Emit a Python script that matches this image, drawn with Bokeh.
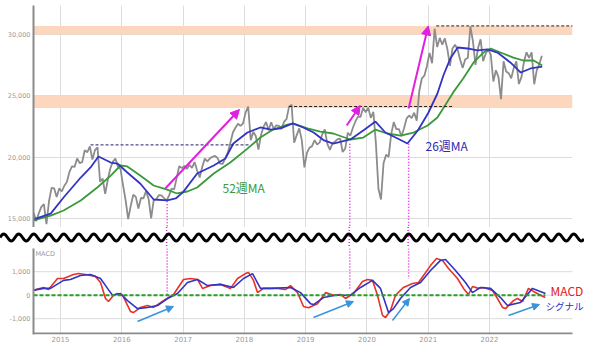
import numpy as np
from bokeh.plotting import figure
from bokeh.layouts import column
from bokeh.models import (Range1d, FixedTicker, NumeralTickFormatter, BoxAnnotation,
                          Arrow, NormalHead, Label, Div)
from bokeh.embed import file_html
from bokeh.resources import INLINE

# ---------------- data ----------------
# weekly price (sampled twice a month), starting second half of Jul 2014
PRICE_START = 2014.5625
price = [
    15460, 14780, 15420, 15950, 16170, 14530, 16410, 17490, 17460, 16760, 17450,
    17200, 17670, 17980, 18800, 19250, 19200, 19900, 19520, 19600, 20560, 20400, 20870,
    19800, 20580, 20800, 18000, 18260, 17000, 18140, 19080, 19640, 19880, 19230, 19030,
    17700, 16500, 14950, 16030, 16940, 16760, 15820, 16670, 16650, 17230, 16600, 15000,
    16500, 16570, 16900, 16890, 16670, 16450, 16860, 17430, 17370, 18310, 19270, 19110,
    19290, 19040, 19380, 19120, 19600, 18910, 18340, 19200, 19880, 19650, 19900, 20030,
    20100, 19930, 19470, 19450, 19900, 20360, 21150, 22010, 22400, 22720, 22550, 22760,
    23650, 24120, 21380, 22070, 21700, 20620, 21800, 22470, 22870, 22200, 22850, 22300,
    22600, 22550, 22300, 22870, 23100, 24120, 24270, 21180, 21800, 22350, 21370, 19160,
    20350, 20770, 20900, 21380, 21020, 21200, 21870, 22260, 21060, 20600, 21120, 21270,
    21470, 21520, 20420, 20700, 21990, 21760, 22400, 22930, 23300, 23290, 24020, 23660,
    24040, 23210, 23690, 21140, 17430, 16550, 19500, 20190, 20040, 21880, 22860, 22290,
    22290, 21710, 22330, 23140, 23400, 23190, 23620, 22980, 25390, 26430, 26650, 27440,
    28500, 27660, 30470, 28970, 29720, 29180, 29680, 28810, 27450, 28860, 29160, 28790,
    27940, 27280, 27980, 28090, 30670, 29450, 27530, 28890, 29610, 27820, 28440, 28790,
    28330, 26170, 27080, 26530, 24720, 27820, 26990, 26850, 26430, 27280, 27820, 25960,
    26520, 27800, 28550, 28090, 28540, 25940, 27090, 27590, 28260,
]

ma26_t = [2014.56, 2014.84, 2015.05, 2015.33, 2015.49, 2015.62, 2015.82, 2015.93, 2016.09, 2016.30,
          2016.52, 2016.74, 2016.88, 2017.00, 2017.23, 2017.50, 2017.69, 2017.82, 2018.05, 2018.26,
          2018.43, 2018.59, 2018.79, 2018.96, 2019.13, 2019.30, 2019.45, 2019.73, 2019.94, 2020.14,
          2020.30, 2020.50, 2020.66, 2020.83, 2021.00, 2021.15, 2021.25, 2021.36, 2021.48, 2021.64,
          2021.80, 2021.97, 2022.13, 2022.34, 2022.51, 2022.67, 2022.86]
ma26_v = [14920, 15400, 16710, 18340, 19160, 20050, 19560, 19480, 18750, 17850,
          16550, 16470, 16630, 17150, 18670, 19320, 19890, 21110, 22010, 22420,
          22250, 22340, 22750, 22420, 22010, 21360, 21110, 21440, 22170, 22900,
          22010, 21520, 21110, 22170, 23600, 25190, 26700, 28040, 28940, 28860,
          28700, 28780, 28530, 27720, 26900, 27230, 27390]

ma52_t = [2014.56, 2014.84, 2015.05, 2015.33, 2015.60, 2015.82, 2015.98, 2016.09, 2016.30, 2016.52,
          2016.74, 2016.90, 2017.07, 2017.23, 2017.50, 2017.77, 2018.05, 2018.26, 2018.47, 2018.70,
          2018.80, 2019.03, 2019.24, 2019.45, 2019.73, 2019.94, 2020.14, 2020.33, 2020.55, 2020.76,
          2020.99, 2021.15, 2021.41, 2021.57, 2021.74, 2021.90, 2022.02, 2022.18, 2022.39, 2022.55,
          2022.72, 2022.86]
ma52_v = [14840, 15240, 15650, 16470, 17530, 18500, 19320, 19240, 18500, 17690,
          17360, 17040, 17200, 17530, 18670, 19560, 20700, 21600, 22250, 22660,
          22740, 22340, 22090, 21930, 21440, 21600, 22250, 21930, 21760, 22010,
          22580, 23230, 25300, 26410, 27720, 28530, 28860, 28530, 28120, 27880,
          27880, 27470]

macd_t = [2014.543, 2014.723, 2014.804, 2014.951, 2015.049, 2015.212, 2015.294, 2015.408, 2015.571, 2015.653,
          2015.734, 2015.783, 2015.865, 2015.930, 2016.012, 2016.142, 2016.191, 2016.305, 2016.419, 2016.517,
          2016.681, 2016.844, 2017.007, 2017.121, 2017.235, 2017.317, 2017.447, 2017.611, 2017.774, 2017.888,
          2018.018, 2018.067, 2018.149, 2018.214, 2018.312, 2018.541, 2018.671, 2018.753, 2018.867, 2018.965,
          2019.046, 2019.193, 2019.324, 2019.454, 2019.568, 2019.650, 2019.781, 2019.927, 2020.009, 2020.091,
          2020.172, 2020.254, 2020.303, 2020.384, 2020.466, 2020.596, 2020.743, 2020.841, 2020.923, 2021.037,
          2021.135, 2021.233, 2021.331, 2021.477, 2021.575, 2021.657, 2021.722, 2021.820, 2021.902, 2022.049,
          2022.129, 2022.212, 2022.261, 2022.391, 2022.456, 2022.538, 2022.636, 2022.717, 2022.832, 2022.910]
macd_v = [200, 330, 240, 710, 710, 880, 920, 880, 800, 540,
          -140, -270, 0, 70, 0, -690, -740, -520, -440, -520,
          -230, 30, 670, 710, 670, 290, 410, 460, 290, 710,
          920, 970, 630, 110, 290, 290, 240, 410, 110, -480,
          -530, -360, 110, 0, 30, -140, 70, 580, 670, 630,
          0, -860, -950, -650, 0, 330, 500, 540, 840, 1260,
          1560, 1480, 1140, 710, 290, 30, 370, 290, 330, 200,
          -140, -520, -570, -230, -140, -270, 290, 160, 0, -100]

sig_t = [2014.543, 2014.723, 2014.837, 2015.049, 2015.163, 2015.326, 2015.489, 2015.653, 2015.767, 2015.848,
         2015.979, 2016.093, 2016.256, 2016.419, 2016.583, 2016.746, 2016.909, 2017.072, 2017.235, 2017.398,
         2017.611, 2017.823, 2017.986, 2018.133, 2018.263, 2018.426, 2018.753, 2018.916, 2019.079, 2019.128,
         2019.291, 2019.487, 2019.732, 2019.895, 2020.091, 2020.221, 2020.352, 2020.433, 2020.547, 2020.711,
         2020.874, 2021.037, 2021.200, 2021.282, 2021.445, 2021.608, 2021.722, 2021.853, 2022.016, 2022.179,
         2022.293, 2022.505, 2022.701, 2022.913]
sig_v = [200, 290, 290, 630, 670, 840, 880, 710, 290, 0,
         70, -230, -570, -520, -440, -140, 70, 540, 670, 410,
         460, 330, 710, 920, 290, 290, 330, 110, -360, -400,
         -100, 0, 0, 330, 630, 290, -740, -570, -140, 330,
         540, 1050, 1480, 1520, 1050, 540, 110, 330, 290, -100,
         -440, -310, 290, 70]

years = [2015, 2016, 2017, 2018, 2019, 2020, 2021, 2022]
year_labels = ["2015", "2016", "2017", "2018", "2019", "2020", "2021", "2022"]
price_ticks = [15000, 20000, 25000, 30000]
macd_ticks = [-1000, 0, 1000]

bands = [(24000, 25000), (30000, 30700)]
hlines = [(2015.49, 2018.08, 21000, "#1c1c6b"),
          (2018.73, 2021.40, 24130, "#222222"),
          (2021.13, 2023.36, 30700, "#222222")]
up_arrows = [(2016.71, 17445, 2017.92, 23886),
             (2019.67, 22581, 2019.89, 24211),
             (2020.68, 23967, 2021.00, 30700)]
vlines_x = [2016.74, 2019.72, 2020.68]
vlines_top_from = [16400, 21100, 21100]
vlines_macd_to = [0, 200, 700]
macd_arrows = [(2016.256, -1119, 2016.844, -481),
               (2019.128, -949, 2019.781, -268),
               (2020.417, -1077, 2020.694, -140),
               (2022.309, -864, 2022.815, -396)]

# ---------------- layout ----------------
W = 584
L, R = 33, 12
PX = 61.29
X0 = 2015 + (L - 60) / PX
X1 = 2015 + (W - R - 60) / PX
xr = Range1d(X0, X1)
# MACD panel frame runs to the right edge so the side texts are not clipped
X1M = 2015 + (W - 60) / PX
xr3 = Range1d(X0, X1M)

# price panel: frame from y=5 to y=227
T1 = 5
H1 = 227
PY = 5000 / 61.33
Y_TOP = 30000 + (34 - T1) * PY
Y_BOT = 30000 - (H1 - 34) * PY
# wave strip
H2 = 21
# MACD panel: frame from y=248 to y=334
H3 = 96
B3 = 10
MY = 1000 / 23.5
M_TOP = (294.7 - 248) * MY
M_BOT = (294.7 - (248 + H3 - B3)) * MY

GRAY_TXT = "#9a9a9a"
AXIS = "#8a8a8a"
GRID = "#dcdcdc"
MAG = "#e21ee2"
GREEN = "#3a9a3a"
BLUE = "#3333c4"
RED = "#e63228"
SKY = "#3a94dc"
PEACH = "#fcd6bd"
TXT_FONT = "Noto Sans CJK JP"


def base(p):
    p.outline_line_color = None
    p.background_fill_color = "white"
    p.border_fill_color = "white"


def style_y(p, ticks):
    ax = p.yaxis[0]
    ax.ticker = FixedTicker(ticks=ticks)
    ax.formatter = NumeralTickFormatter(format="0,0")
    ax.major_label_text_font_size = "6.5px"
    ax.major_label_text_font = "DejaVu Sans"
    ax.major_label_text_color = GRAY_TXT
    ax.axis_line_color = AXIS
    ax.axis_line_width = 2
    ax.major_tick_line_color = None
    ax.minor_tick_line_color = None
    ax.major_tick_out = 0
    ax.major_tick_in = 0
    ax.minor_tick_out = 0
    ax.minor_tick_in = 0
    ax.major_label_standoff = 3
    p.xgrid.grid_line_color = GRID
    p.xgrid.ticker = FixedTicker(ticks=years)


# ---- price panel ----
p1 = figure(frame_width=W - L - R, frame_height=H1 - T1, x_range=xr, y_range=Range1d(Y_BOT, Y_TOP),
            x_axis_location=None, output_backend="svg", toolbar_location=None,
            min_border_left=L, min_border_right=R, min_border_bottom=0, min_border_top=T1)
base(p1)
style_y(p1, price_ticks)
p1.ygrid.grid_line_color = GRID

for b0, b1 in bands:
    p1.add_layout(BoxAnnotation(bottom=b0, top=b1, fill_color=PEACH, fill_alpha=1.0,
                                line_color=None, level="underlay"))

price_t = [PRICE_START + i / 24 for i in range(len(price))]
p1.line(price_t, price, line_color="#8c8c8c", line_width=1.8)
p1.line(ma52_t, ma52_v, line_color=GREEN, line_width=1.8)
p1.line(ma26_t, ma26_v, line_color=BLUE, line_width=1.8)

for xa, xb, yv, col in hlines:
    p1.line([xa, xb], [yv, yv], line_color=col, line_width=1, line_dash="3 2")

for xv, yv in zip(vlines_x, vlines_top_from):
    p1.line([xv, xv], [yv, Y_BOT], line_color=MAG, line_width=1.5, line_dash="1 2")

for xs, ys, xe, ye in up_arrows:
    p1.add_layout(Arrow(end=NormalHead(size=9, fill_color=MAG, line_color=MAG),
                        x_start=xs, y_start=ys, x_end=xe, y_end=ye,
                        line_color=MAG, line_width=2))

p1.add_layout(Label(x=2015 + (222 - 60) / PX, y=30000 - (187 - 34) * PY,
                    text="52週MA", text_font=TXT_FONT, text_font_size="12px",
                    text_color=GREEN, text_baseline="middle"))
p1.add_layout(Label(x=2015 + (425 - 60) / PX, y=30000 - (145 - 34) * PY,
                    text="26週MA", text_font=TXT_FONT, text_font_size="12px",
                    text_color="#2b2bb0", text_baseline="middle"))

# ---- wave separator (decorative strip, full width, not frame-aligned) ----
wave_x = np.arange(0, W + 1, 1.0)
wave_y = 10.5 - 3.5 * np.sin(2 * np.pi * wave_x / 15.0)
wave_path = "M" + " L".join(f"{a:.1f},{b:.2f}" for a, b in zip(wave_x, wave_y))
dots = "".join(
    f'<line x1="{L + (xv - X0) * PX:.1f}" y1="0" x2="{L + (xv - X0) * PX:.1f}" y2="{H2}" '
    f'stroke="{MAG}" stroke-width="1.5" stroke-dasharray="1 2"/>'
    for xv in vlines_x)
svg = (f'<svg xmlns="http://www.w3.org/2000/svg" width="{W}" height="{H2}" '
       f'style="display:block" viewBox="0 0 {W} {H2}">{dots}'
       f'<path d="{wave_path}" fill="none" stroke="black" stroke-width="3"/></svg>')
p2 = Div(text=svg, width=W, height=H2, margin=0,
         styles={"overflow": "hidden", "padding": "0", "line-height": "0"})

# ---- MACD panel ----
p3 = figure(frame_width=W - L, frame_height=H3 - B3, x_range=xr3, y_range=Range1d(M_BOT, M_TOP),
            output_backend="svg", toolbar_location=None,
            min_border_left=L, min_border_right=0, min_border_bottom=B3, min_border_top=0)
base(p3)
style_y(p3, macd_ticks)
p3.ygrid.visible = False
for tv in macd_ticks:
    p3.line([X0, X1], [tv, tv], line_color=GRID, line_width=1)

xa = p3.xaxis[0]
xa.ticker = FixedTicker(ticks=years)
xa.major_label_overrides = {y: s for y, s in zip(years, year_labels)}
xa.major_label_text_font_size = "7px"
xa.major_label_text_font = "DejaVu Sans"
xa.major_label_text_color = GRAY_TXT
xa.axis_line_color = None
xa.major_tick_line_color = None
xa.minor_tick_line_color = None
xa.major_tick_out = 0
xa.major_tick_in = 0
xa.minor_tick_out = 0
xa.minor_tick_in = 0
xa.major_label_standoff = 1
# bottom axis line drawn only across the plotting width (1px above the frame edge)
p3.line([X0, X1], [M_BOT + MY, M_BOT + MY], line_color=AXIS, line_width=2)

for xv, yv in zip(vlines_x, vlines_macd_to):
    p3.line([xv, xv], [M_TOP, yv], line_color=MAG, line_width=1.5, line_dash="1 2")

p3.line(macd_t, macd_v, line_color=RED, line_width=1.6)
p3.line(sig_t, sig_v, line_color=BLUE, line_width=1.6)
p3.line([X0, 2022.91], [0, 0], line_color="#2a9d2a", line_width=2, line_dash="4 2")

for xs, ys, xe, ye in macd_arrows:
    p3.add_layout(Arrow(end=NormalHead(size=7, fill_color=SKY, line_color=SKY),
                        x_start=xs, y_start=ys, x_end=xe, y_end=ye,
                        line_color=SKY, line_width=1.5))

p3.add_layout(Label(x=X0 + 2 / PX, y=(294.7 - 249) * MY, text="MACD", text_font="DejaVu Sans",
                    text_font_size="6.5px", text_color=GRAY_TXT, text_baseline="top"))
p3.add_layout(Label(x=2015 + (550 - 60) / PX, y=(294.7 - 290) * MY, text="MACD", text_font=TXT_FONT,
                    text_font_size="12px", text_color="#e02020", text_baseline="middle"))
p3.add_layout(Label(x=2015 + (545 - 60) / PX, y=(294.7 - 305) * MY, text="シグナル", text_font=TXT_FONT,
                    text_font_size="9.5px", text_color="#2b2bcc", text_baseline="middle"))

layout = column(p1, p2, p3, spacing=0)
open("out.html", "w").write(file_html(layout, INLINE))
